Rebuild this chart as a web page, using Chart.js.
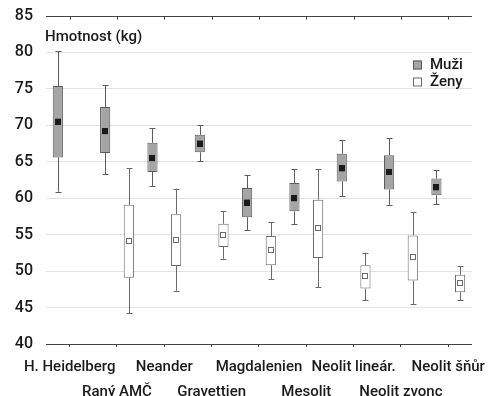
<!DOCTYPE html>
<html>
<head>
<meta charset="utf-8">
<script src="https://cdn.jsdelivr.net/npm/chart.js@4/dist/chart.umd.min.js"></script>
<style>
  body { margin: 0; background: #fff; }
  #wrap { width: 493px; height: 396px; }
</style>
</head>
<body>
<div id="wrap"><canvas id="chart"></canvas></div>
<script>
// kategorie (obdobi)
const categories = ['H. Heidelberg', 'Raný AMČ', 'Neander', 'Gravettien', 'Magdalenien',
                    'Mesolit', 'Neolit lineár.', 'Neolit zvonc', 'Neolit šňůr'];

// Muzi: min, Q1, median, Q3, max (kg)
const muziMin = [60.9, 63.3, 61.7, 65.1, 55.6, 56.4, 60.3, 59.1, 59.2];
const muziQ1  = [65.6, 66.2, 63.6, 66.3, 57.4, 58.2, 62.3, 61.2, 60.4];
const muziMed = [70.5, 69.2, 65.5, 67.5, 59.4, 60.0, 64.1, 63.6, 61.5];
const muziQ3  = [75.4, 72.5, 67.6, 68.7, 61.4, 62.1, 66.1, 65.9, 62.7];
const muziMax = [80.2, 75.5, 69.6, 70.0, 63.2, 64.0, 68.0, 68.2, 63.9];

// Zeny (H. Heidelberg bez dat)
const zenyMin = [null, 44.2, 47.3, 51.7, 48.9, 47.8, 46.0, 45.5, 46.0];
const zenyQ1  = [null, 49.1, 50.7, 53.3, 50.8, 51.8, 47.6, 48.7, 47.1];
const zenyMed = [null, 54.1, 54.2, 54.9, 52.9, 55.9, 49.3, 51.9, 48.4];
const zenyQ3  = [null, 59.1, 57.8, 56.5, 54.8, 59.8, 50.8, 54.9, 49.5];
const zenyMax = [null, 64.1, 61.3, 58.2, 56.7, 64.0, 52.5, 58.1, 50.7];

const yTicks = [40, 45, 50, 55, 60, 65, 70, 75, 80, 85];

const FONT = "Roboto, 'Liberation Sans', sans-serif";
const TXT = '#1a1a1a';
const AXIS = '#444';

const series = [
    { label: 'Muži', min: muziMin, q1: muziQ1, med: muziMed, q3: muziQ3, max: muziMax,
      fill: '#a5a5a5', border: '#5c5c5c', medFill: '#1a1a1a', medBorder: '#1a1a1a' },
    { label: 'Ženy', min: zenyMin, q1: zenyQ1, med: zenyMed, q3: zenyQ3, max: zenyMax,
      fill: '#ffffff', border: '#6a6a6a', medFill: '#ffffff', medBorder: '#6a6a6a' }
];

// vousy, median, horni osa, popisek osy a legenda
const boxPlugin = {
    id: 'boxExtras',
    afterDatasetsDraw(chart) {
        const ctx = chart.ctx;
        const y = chart.scales.y;
        series.forEach((s, d) => {
            const meta = chart.getDatasetMeta(d);
            meta.data.forEach((el, i) => {
                if (s.q1[i] == null) return;
                const x = Math.round(el.x) + 0.5;
                ctx.save();
                ctx.strokeStyle = s.border;
                ctx.lineWidth = 1;
                ctx.beginPath();
                ctx.moveTo(x, y.getPixelForValue(s.q3[i]));
                ctx.lineTo(x, y.getPixelForValue(s.max[i]));
                ctx.moveTo(x, y.getPixelForValue(s.q1[i]));
                ctx.lineTo(x, y.getPixelForValue(s.min[i]));
                const yt = Math.round(y.getPixelForValue(s.max[i])) + 0.5;
                const yb = Math.round(y.getPixelForValue(s.min[i])) + 0.5;
                ctx.moveTo(x - 3, yt); ctx.lineTo(x + 3, yt);
                ctx.moveTo(x - 3, yb); ctx.lineTo(x + 3, yb);
                ctx.stroke();
                const ym = y.getPixelForValue(s.med[i]);
                ctx.fillStyle = s.medFill;
                ctx.fillRect(x - 3.5, ym - 3, 6, 6);
                ctx.strokeStyle = s.medBorder;
                ctx.strokeRect(x - 3, Math.round(ym - 3) + 0.5, 5, 5);
                ctx.restore();
            });
        });
    },
    afterDraw(chart) {
        const ctx = chart.ctx;
        const area = chart.chartArea;
        const xs = chart.scales.x;
        const top = Math.round(chart.scales.y.getPixelForValue(85)) + 0.5;
        ctx.save();
        ctx.strokeStyle = AXIS;
        ctx.lineWidth = 1;
        ctx.beginPath();
        categories.forEach((c, i) => {
            const px = Math.round(xs.getPixelForTick(i)) + 0.5;
            ctx.moveTo(px, top);
            ctx.lineTo(px, top + 3);
        });
        ctx.stroke();

        ctx.fillStyle = TXT;
        ctx.font = '500 15px ' + FONT;
        ctx.textBaseline = 'middle';
        ctx.textAlign = 'left';
        ctx.fillText('Hmotnost (kg)', area.left - 1, 37);

        // legenda
        const lx = 413, rows = [65, 82];
        series.forEach((s, k) => {
            ctx.fillStyle = s.fill;
            ctx.fillRect(lx, rows[k] - 4.5, 9, 9);
            ctx.strokeStyle = s.border;
            ctx.strokeRect(lx + 0.5, rows[k] - 4, 8, 8);
            ctx.fillStyle = TXT;
            ctx.fillText(s.label, lx + 17, rows[k]);
        });
        ctx.restore();
    }
};

new Chart(document.getElementById('chart'), {
    type: 'bar',
    data: {
        labels: categories.map((c, i) => i % 2 === 0 ? [c, ''] : ['', c]),
        datasets: series.map(s => ({
            label: s.label,
            data: s.q1.map((v, i) => v == null ? null : [v, s.q3[i]]),
            backgroundColor: s.fill,
            borderColor: s.border,
            borderWidth: 1,
            borderSkipped: false,
            categoryPercentage: 1,
            barPercentage: 0.43
        }))
    },
    options: {
        responsive: true,
        maintainAspectRatio: false,
        animation: false,
        layout: { padding: { top: 16, right: 20, left: 0, bottom: 0 } },
        plugins: { legend: { display: false }, tooltip: { enabled: false } },
        scales: {
            x: {
                afterFit: s => { s.height = 52; },
                border: { display: true, color: AXIS, width: 1 },
                grid: { display: true, drawOnChartArea: false, drawTicks: true, tickLength: 3,
                        color: AXIS, offset: false },
                ticks: { color: TXT, padding: 7, maxRotation: 0, autoSkip: false,
                         font: { family: FONT, size: 15, weight: '500', lineHeight: 1.7 } }
            },
            y: {
                min: 40, max: 85,
                afterFit: s => { s.width = 46; s.paddingTop = 0; s.paddingBottom = 0; },
                afterBuildTicks: s => { s.ticks = yTicks.map(v => ({ value: v })); },
                border: { display: false },
                grid: { drawTicks: false,
                        color: c => (c.tick.value === 40 || c.tick.value === 85) ? AXIS : '#e2e2e2' },
                ticks: { color: TXT, padding: 13, font: { family: FONT, size: 16, weight: '500' } }
            }
        }
    },
    plugins: [boxPlugin]
});
</script>
</body>
</html>
